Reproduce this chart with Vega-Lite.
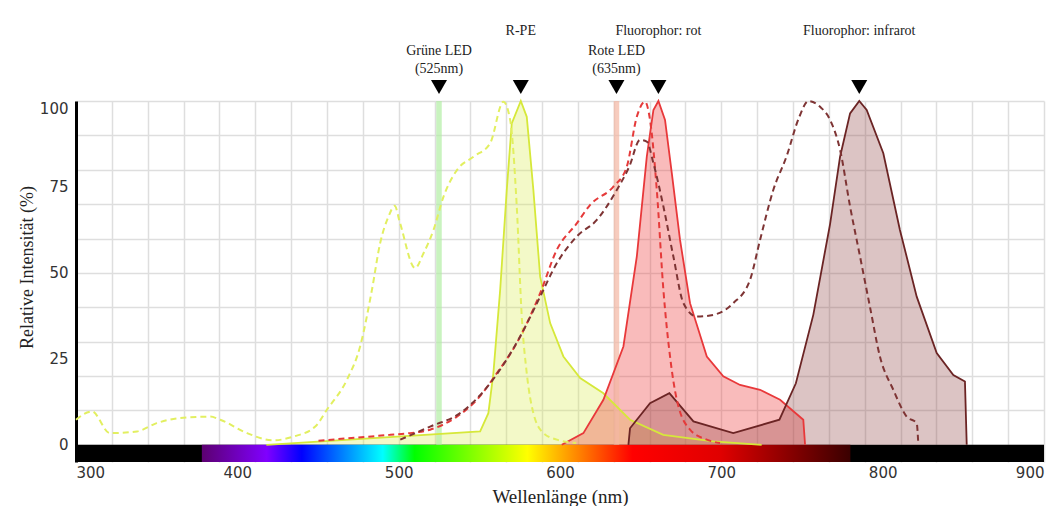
{
  "$schema": "https://vega.github.io/schema/vega-lite/v6.json",
  "width": 968,
  "height": 361,
  "autosize": {"type": "none"},
  "padding": {"left": 76, "top": 101, "right": 15, "bottom": 44},
  "background": "white",
  "config": {
    "view": {"stroke": null},
    "axis": {
      "labelOverlap": false, "labelFont": "DejaVu Sans", "labelFontSize": 15, "labelColor": "#333333",
      "titleFont": "Liberation Serif", "titleFontWeight": "normal", "titleColor": "#222222",
      "ticks": false, "grid": true, "gridColor": "#dedede", "gridWidth": 1.5
    },
    "axisX": {"labelPadding": 3, "labelFlush": true, "domain": false, "titleFontSize": 19},
    "axisY": {"labelPadding": 8, "domain": true, "domainColor": "#000000", "domainWidth": 3, "titleFontSize": 18}
  },
  "resolve": {"axis": {"x": "independent", "y": "independent"}},
  "data": {"values": [
      {"s": "band", "name": "Spektrum"},
      {"s": "band2", "name": "sichtbar"},
      {"s": "led", "name": "Grüne LED", "nm": 525, "label": "Grüne LED\n(525nm)"},
      {"s": "led", "name": "Rote LED", "nm": 635, "label": "Rote LED\n(635nm)"},
      {"s": "fluor", "name": "R-PE", "nm": 575.7},
      {"s": "fluor", "name": "Fluorophor: rot", "nm": 661},
      {"s": "fluor", "name": "Fluorophor: infrarot", "nm": 785.5},

      {"s": "rpe_ex", "nm": 300, "v": 7.3}, {"s": "rpe_ex", "nm": 309.9, "v": 9.7}, {"s": "rpe_ex", "nm": 321, "v": 3.4},
      {"s": "rpe_ex", "nm": 337.8, "v": 3.9}, {"s": "rpe_ex", "nm": 350, "v": 6.3}, {"s": "rpe_ex", "nm": 364.6, "v": 7.8},
      {"s": "rpe_ex", "nm": 383.2, "v": 8.2}, {"s": "rpe_ex", "nm": 389.4, "v": 7.3}, {"s": "rpe_ex", "nm": 406, "v": 3.4},
      {"s": "rpe_ex", "nm": 422.4, "v": 1.3}, {"s": "rpe_ex", "nm": 434.8, "v": 2.4}, {"s": "rpe_ex", "nm": 448.3, "v": 5.3},
      {"s": "rpe_ex", "nm": 455.5, "v": 10.2}, {"s": "rpe_ex", "nm": 467.9, "v": 18.9}, {"s": "rpe_ex", "nm": 476.1, "v": 28.6},
      {"s": "rpe_ex", "nm": 483.4, "v": 45}, {"s": "rpe_ex", "nm": 488.5, "v": 58.6}, {"s": "rpe_ex", "nm": 493.7, "v": 66.4},
      {"s": "rpe_ex", "nm": 497.5, "v": 69.5}, {"s": "rpe_ex", "nm": 500.9, "v": 64.4}, {"s": "rpe_ex", "nm": 510.2, "v": 51.4},
      {"s": "rpe_ex", "nm": 515.4, "v": 55.7}, {"s": "rpe_ex", "nm": 521.6, "v": 62.5}, {"s": "rpe_ex", "nm": 527.8, "v": 72.2},
      {"s": "rpe_ex", "nm": 536.1, "v": 79.9}, {"s": "rpe_ex", "nm": 546.4, "v": 83.8}, {"s": "rpe_ex", "nm": 556.7, "v": 87.7},
      {"s": "rpe_ex", "nm": 564.9, "v": 99.8}, {"s": "rpe_ex", "nm": 569.1, "v": 94.5}, {"s": "rpe_ex", "nm": 573.2, "v": 69.3},
      {"s": "rpe_ex", "nm": 576.3, "v": 37.3}, {"s": "rpe_ex", "nm": 579.4, "v": 20.8}, {"s": "rpe_ex", "nm": 583.5, "v": 9.2},
      {"s": "rpe_ex", "nm": 589.7, "v": 3.4}, {"s": "rpe_ex", "nm": 598, "v": 1.5}, {"s": "rpe_ex", "nm": 610, "v": 0.5},

      {"s": "rpe_em", "nm": 418, "v": 0}, {"s": "rpe_em", "nm": 550.5, "v": 3.9}, {"s": "rpe_em", "nm": 555.6, "v": 9.2},
      {"s": "rpe_em", "nm": 558.7, "v": 20.8}, {"s": "rpe_em", "nm": 562.9, "v": 45}, {"s": "rpe_em", "nm": 567, "v": 74.1},
      {"s": "rpe_em", "nm": 570.1, "v": 93.5}, {"s": "rpe_em", "nm": 575.7, "v": 100}, {"s": "rpe_em", "nm": 579.4, "v": 95.4},
      {"s": "rpe_em", "nm": 583.5, "v": 74.1}, {"s": "rpe_em", "nm": 587.7, "v": 48.9}, {"s": "rpe_em", "nm": 593.9, "v": 35.4},
      {"s": "rpe_em", "nm": 602.1, "v": 25.7}, {"s": "rpe_em", "nm": 612.5, "v": 19.4}, {"s": "rpe_em", "nm": 626.9, "v": 15},
      {"s": "rpe_em", "nm": 643.4, "v": 7.3}, {"s": "rpe_em", "nm": 664, "v": 2.9}, {"s": "rpe_em", "nm": 695, "v": 1.0},
      {"s": "rpe_em", "nm": 725, "v": 0},

      {"s": "rot_ex", "nm": 450.3, "v": 1.2}, {"s": "rot_ex", "nm": 494.7, "v": 2.9}, {"s": "rot_ex", "nm": 507.1, "v": 3.4},
      {"s": "rot_ex", "nm": 519.5, "v": 4.4}, {"s": "rot_ex", "nm": 536.1, "v": 8.2}, {"s": "rot_ex", "nm": 548.5, "v": 13.1},
      {"s": "rot_ex", "nm": 560.8, "v": 20.8}, {"s": "rot_ex", "nm": 573.2, "v": 29.6}, {"s": "rot_ex", "nm": 587.7, "v": 44.1},
      {"s": "rot_ex", "nm": 598, "v": 56.7}, {"s": "rot_ex", "nm": 610.4, "v": 64.4}, {"s": "rot_ex", "nm": 618.7, "v": 69.8},
      {"s": "rot_ex", "nm": 633.1, "v": 75.1}, {"s": "rot_ex", "nm": 641.4, "v": 80.9}, {"s": "rot_ex", "nm": 647.6, "v": 95.4},
      {"s": "rot_ex", "nm": 652.7, "v": 99.8}, {"s": "rot_ex", "nm": 655.8, "v": 94.5}, {"s": "rot_ex", "nm": 660, "v": 74.1},
      {"s": "rot_ex", "nm": 664.1, "v": 45}, {"s": "rot_ex", "nm": 668.2, "v": 25.7}, {"s": "rot_ex", "nm": 672.4, "v": 13.1},
      {"s": "rot_ex", "nm": 680.6, "v": 4.4}, {"s": "rot_ex", "nm": 691, "v": 1.5}, {"s": "rot_ex", "nm": 699.2, "v": 0.5},

      {"s": "rot_em", "nm": 601.1, "v": 0}, {"s": "rot_em", "nm": 614.5, "v": 3.4}, {"s": "rot_em", "nm": 626.9, "v": 13.1},
      {"s": "rot_em", "nm": 639.3, "v": 28.6}, {"s": "rot_em", "nm": 647.6, "v": 54.7}, {"s": "rot_em", "nm": 653.8, "v": 83.8},
      {"s": "rot_em", "nm": 657.9, "v": 97.4}, {"s": "rot_em", "nm": 661, "v": 100}, {"s": "rot_em", "nm": 665.1, "v": 94.5},
      {"s": "rot_em", "nm": 669.3, "v": 79}, {"s": "rot_em", "nm": 674.4, "v": 59.6}, {"s": "rot_em", "nm": 680.6, "v": 41.2},
      {"s": "rot_em", "nm": 691, "v": 25.7}, {"s": "rot_em", "nm": 701.2, "v": 19.9}, {"s": "rot_em", "nm": 711.6, "v": 17.4},
      {"s": "rot_em", "nm": 724, "v": 16}, {"s": "rot_em", "nm": 736.4, "v": 13.1}, {"s": "rot_em", "nm": 750.8, "v": 7.3},
      {"s": "rot_em", "nm": 751.9, "v": 0},

      {"s": "ir_ex", "nm": 501, "v": 1.5}, {"s": "ir_ex", "nm": 519.5, "v": 5.3}, {"s": "ir_ex", "nm": 538.1, "v": 9.2},
      {"s": "ir_ex", "nm": 556.7, "v": 17.9}, {"s": "ir_ex", "nm": 575.3, "v": 31.5}, {"s": "ir_ex", "nm": 587.7, "v": 43.1},
      {"s": "ir_ex", "nm": 598, "v": 52.8}, {"s": "ir_ex", "nm": 610.4, "v": 60.6}, {"s": "ir_ex", "nm": 622.8, "v": 65.4},
      {"s": "ir_ex", "nm": 635.2, "v": 74.1}, {"s": "ir_ex", "nm": 643, "v": 81}, {"s": "ir_ex", "nm": 649.6, "v": 88.7},
      {"s": "ir_ex", "nm": 653.8, "v": 88.2}, {"s": "ir_ex", "nm": 657.9, "v": 81.9}, {"s": "ir_ex", "nm": 664.1, "v": 69.3},
      {"s": "ir_ex", "nm": 670.3, "v": 54.7}, {"s": "ir_ex", "nm": 676.5, "v": 41.2}, {"s": "ir_ex", "nm": 684.8, "v": 37.3},
      {"s": "ir_ex", "nm": 695, "v": 37.8}, {"s": "ir_ex", "nm": 707.4, "v": 41.2}, {"s": "ir_ex", "nm": 717.8, "v": 48},
      {"s": "ir_ex", "nm": 724, "v": 59.6}, {"s": "ir_ex", "nm": 732.2, "v": 74.1}, {"s": "ir_ex", "nm": 740.5, "v": 84},
      {"s": "ir_ex", "nm": 748, "v": 95}, {"s": "ir_ex", "nm": 754, "v": 100}, {"s": "ir_ex", "nm": 761.2, "v": 98.3},
      {"s": "ir_ex", "nm": 767.4, "v": 94.5}, {"s": "ir_ex", "nm": 773.6, "v": 85.8}, {"s": "ir_ex", "nm": 779.8, "v": 69.3},
      {"s": "ir_ex", "nm": 786, "v": 54.7}, {"s": "ir_ex", "nm": 792.1, "v": 40.2}, {"s": "ir_ex", "nm": 798.3, "v": 25.7},
      {"s": "ir_ex", "nm": 806.6, "v": 16}, {"s": "ir_ex", "nm": 814.9, "v": 8.2}, {"s": "ir_ex", "nm": 821.1, "v": 6.3},
      {"s": "ir_ex", "nm": 822.1, "v": 0},

      {"s": "ir_em", "nm": 642.4, "v": 0}, {"s": "ir_em", "nm": 643.4, "v": 4.8}, {"s": "ir_em", "nm": 655.8, "v": 12.1},
      {"s": "ir_em", "nm": 667.8, "v": 15}, {"s": "ir_em", "nm": 682.7, "v": 6.8}, {"s": "ir_em", "nm": 707.4, "v": 3.4},
      {"s": "ir_em", "nm": 736, "v": 7.3}, {"s": "ir_em", "nm": 746.2, "v": 17.9}, {"s": "ir_em", "nm": 757, "v": 37.8},
      {"s": "ir_em", "nm": 767.4, "v": 64.2}, {"s": "ir_em", "nm": 773.6, "v": 83.8}, {"s": "ir_em", "nm": 779.8, "v": 96.4},
      {"s": "ir_em", "nm": 785.5, "v": 100}, {"s": "ir_em", "nm": 790.1, "v": 97.4}, {"s": "ir_em", "nm": 800.4, "v": 84.8},
      {"s": "ir_em", "nm": 810.7, "v": 62.5}, {"s": "ir_em", "nm": 821.1, "v": 43.1}, {"s": "ir_em", "nm": 833.5, "v": 26.7},
      {"s": "ir_em", "nm": 843.8, "v": 20.3}, {"s": "ir_em", "nm": 851, "v": 18.4}, {"s": "ir_em", "nm": 852.1, "v": 0}
  ]},
  "layer": [
    {
      "transform": [{"filter": "datum.s == 'rpe_em'"}],
      "mark": {"type": "area", "fill": "#d8eb48", "fillOpacity": 0.3},
      "encoding": {
        "x": {
          "field": "nm", "type": "quantitative",
          "scale": {"domain": [300, 900], "nice": false, "zero": false},
          "axis": {
            "values": [300, 322.222, 344.444, 366.667, 388.889, 400, 411.111, 433.333, 455.556, 477.778, 500, 522.222, 544.444, 566.667, 588.889, 600, 611.111, 633.333, 655.556, 677.778, 700, 722.222, 744.444, 766.667, 788.889, 800, 811.111, 833.333, 855.556, 877.778, 900],
            "title": "Wellenlänge (nm)",
            "titleBaseline": "alphabetic", "titleY": 40,
            "labelExpr": "datum.value % 100 == 0 ? datum.label : ''",
            "labelOverlap": false,
            "gridOpacity": {"condition": {"test": "datum.value == 400 || datum.value == 600 || datum.value == 800", "value": 0}, "value": 1}
          }
        },
        "y": {
          "field": "v", "type": "quantitative",
          "scale": {"domain": [-5, 100], "nice": false, "zero": false},
          "axis": {
            "values": [0, 10, 20, 25, 30, 40, 50, 60, 70, 75, 80, 90, 100],
            "title": "Relative Intensität (%)",
            "titleX": -49, "titleY": 166, "titleAngle": -90, "titleAlign": "center", "titleBaseline": "middle",
            "labelExpr": "datum.value % 25 == 0 ? datum.label : ''",
            "labelOverlap": false,
            "labelBaseline": {"condition": {"test": "datum.value == 100", "value": "top"}, "value": "middle"},
            "gridOpacity": {"condition": {"test": "datum.value == 25 || datum.value == 75", "value": 0}, "value": 1}
          }
        },
        "y2": {"datum": 0}
      }
    },
    {
      "transform": [{"filter": "datum.s == 'band'"}],
      "mark": {"type": "rect", "fill": "#000000"},
      "encoding": {
        "x": {"datum": 300, "type": "quantitative", "axis": null}, "x2": {"datum": 900},
        "y": {"datum": -5, "type": "quantitative", "axis": null}, "y2": {"datum": 0}
      }
    },
    {
      "transform": [{"filter": "datum.s == 'band2'"}],
      "mark": {"type": "rect", "fill": {"gradient": "linear", "x1": 0, "x2": 1, "y1": 0, "y2": 0, "stops": [
        {"offset": 0, "color": "#5c0070"},
        {"offset": 0.1, "color": "#8000ff"},
        {"offset": 0.154, "color": "#0000ff"},
        {"offset": 0.279, "color": "#00ffff"},
        {"offset": 0.328, "color": "#00ff00"},
        {"offset": 0.502, "color": "#ffff00"},
        {"offset": 0.664, "color": "#ff0000"},
        {"offset": 0.8, "color": "#e00000"},
        {"offset": 1, "color": "#3a0000"}
      ]}},
      "encoding": {
        "x": {"datum": 378, "type": "quantitative", "axis": null}, "x2": {"datum": 780},
        "y": {"datum": -5, "type": "quantitative", "axis": null}, "y2": {"datum": 0}
      }
    },
    {
      "transform": [{"filter": "datum.s == 'rot_em'"}],
      "mark": {"type": "area", "fill": "#ee3b3b", "fillOpacity": 0.35},
      "encoding": {"x": {"field": "nm", "type": "quantitative", "axis": null}, "y": {"field": "v", "type": "quantitative", "axis": null}, "y2": {"datum": 0}}
    },
    {
      "transform": [{"filter": "datum.s == 'ir_em'"}],
      "mark": {"type": "area", "fill": "#8a3a3a", "fillOpacity": 0.3},
      "encoding": {"x": {"field": "nm", "type": "quantitative", "axis": null}, "y": {"field": "v", "type": "quantitative", "axis": null}, "y2": {"datum": 0}}
    },
    {
      "transform": [{"filter": "datum.s == 'led'"}],
      "mark": {"type": "rule", "strokeWidth": 5.5, "opacity": 0.7},
      "encoding": {
        "x": {"field": "nm", "type": "quantitative", "axis": null},
        "y": {"datum": 0, "type": "quantitative", "axis": null}, "y2": {"datum": 100},
        "color": {"field": "name", "type": "nominal", "scale": {"domain": ["Grüne LED", "Rote LED"], "range": ["#b2eea4", "#f4b6a2"]}, "legend": null}
      }
    },
    {
      "transform": [{"filter": "datum.s == 'rpe_em'"}],
      "mark": {"type": "line", "stroke": "#d6e83a", "strokeWidth": 1.8},
      "encoding": {"x": {"field": "nm", "type": "quantitative", "axis": null}, "y": {"field": "v", "type": "quantitative", "axis": null}}
    },
    {
      "transform": [{"filter": "datum.s == 'rot_em'"}],
      "mark": {"type": "line", "stroke": "#e8383a", "strokeWidth": 1.8},
      "encoding": {"x": {"field": "nm", "type": "quantitative", "axis": null}, "y": {"field": "v", "type": "quantitative", "axis": null}}
    },
    {
      "transform": [{"filter": "datum.s == 'ir_em'"}],
      "mark": {"type": "line", "stroke": "#6b2424", "strokeWidth": 1.8},
      "encoding": {"x": {"field": "nm", "type": "quantitative", "axis": null}, "y": {"field": "v", "type": "quantitative", "axis": null}}
    },
    {
      "transform": [{"filter": "datum.s == 'rpe_ex'"}],
      "mark": {"type": "line", "stroke": "#e2ef60", "strokeWidth": 2, "strokeDash": [6, 4], "interpolate": "monotone"},
      "encoding": {"x": {"field": "nm", "type": "quantitative", "axis": null}, "y": {"field": "v", "type": "quantitative", "axis": null}}
    },
    {
      "transform": [{"filter": "datum.s == 'rot_ex'"}],
      "mark": {"type": "line", "stroke": "#e53a3a", "strokeWidth": 2, "strokeDash": [6, 4], "interpolate": "monotone"},
      "encoding": {"x": {"field": "nm", "type": "quantitative", "axis": null}, "y": {"field": "v", "type": "quantitative", "axis": null}}
    },
    {
      "transform": [{"filter": "datum.s == 'ir_ex'"}],
      "mark": {"type": "line", "stroke": "#7e3434", "strokeWidth": 2, "strokeDash": [6, 4], "interpolate": "monotone"},
      "encoding": {"x": {"field": "nm", "type": "quantitative", "axis": null}, "y": {"field": "v", "type": "quantitative", "axis": null}}
    },
    {
      "transform": [{"filter": "datum.s == 'led' || datum.s == 'fluor'"}],
      "mark": {"type": "point", "shape": "triangle-down", "filled": true, "color": "#000000", "opacity": 1, "size": 256, "yOffset": -14},
      "encoding": {"x": {"field": "nm", "type": "quantitative", "axis": null}, "y": {"datum": 100, "type": "quantitative", "axis": null}}
    },
    {
      "transform": [{"filter": "datum.s == 'led'"}],
      "mark": {"type": "text", "font": "Liberation Serif", "fontSize": 14, "color": "#222222", "baseline": "middle", "align": "center", "lineBreak": "\n", "lineHeight": 18, "dy": -50},
      "encoding": {"x": {"field": "nm", "type": "quantitative", "axis": null}, "y": {"datum": 100, "type": "quantitative", "axis": null}, "text": {"field": "label"}}
    },
    {
      "transform": [{"filter": "datum.s == 'fluor'"}],
      "mark": {"type": "text", "font": "Liberation Serif", "fontSize": 14, "color": "#222222", "baseline": "middle", "align": "center", "dy": -70},
      "encoding": {"x": {"field": "nm", "type": "quantitative", "axis": null}, "y": {"datum": 100, "type": "quantitative", "axis": null}, "text": {"field": "name"}}
    }
  ]
}
